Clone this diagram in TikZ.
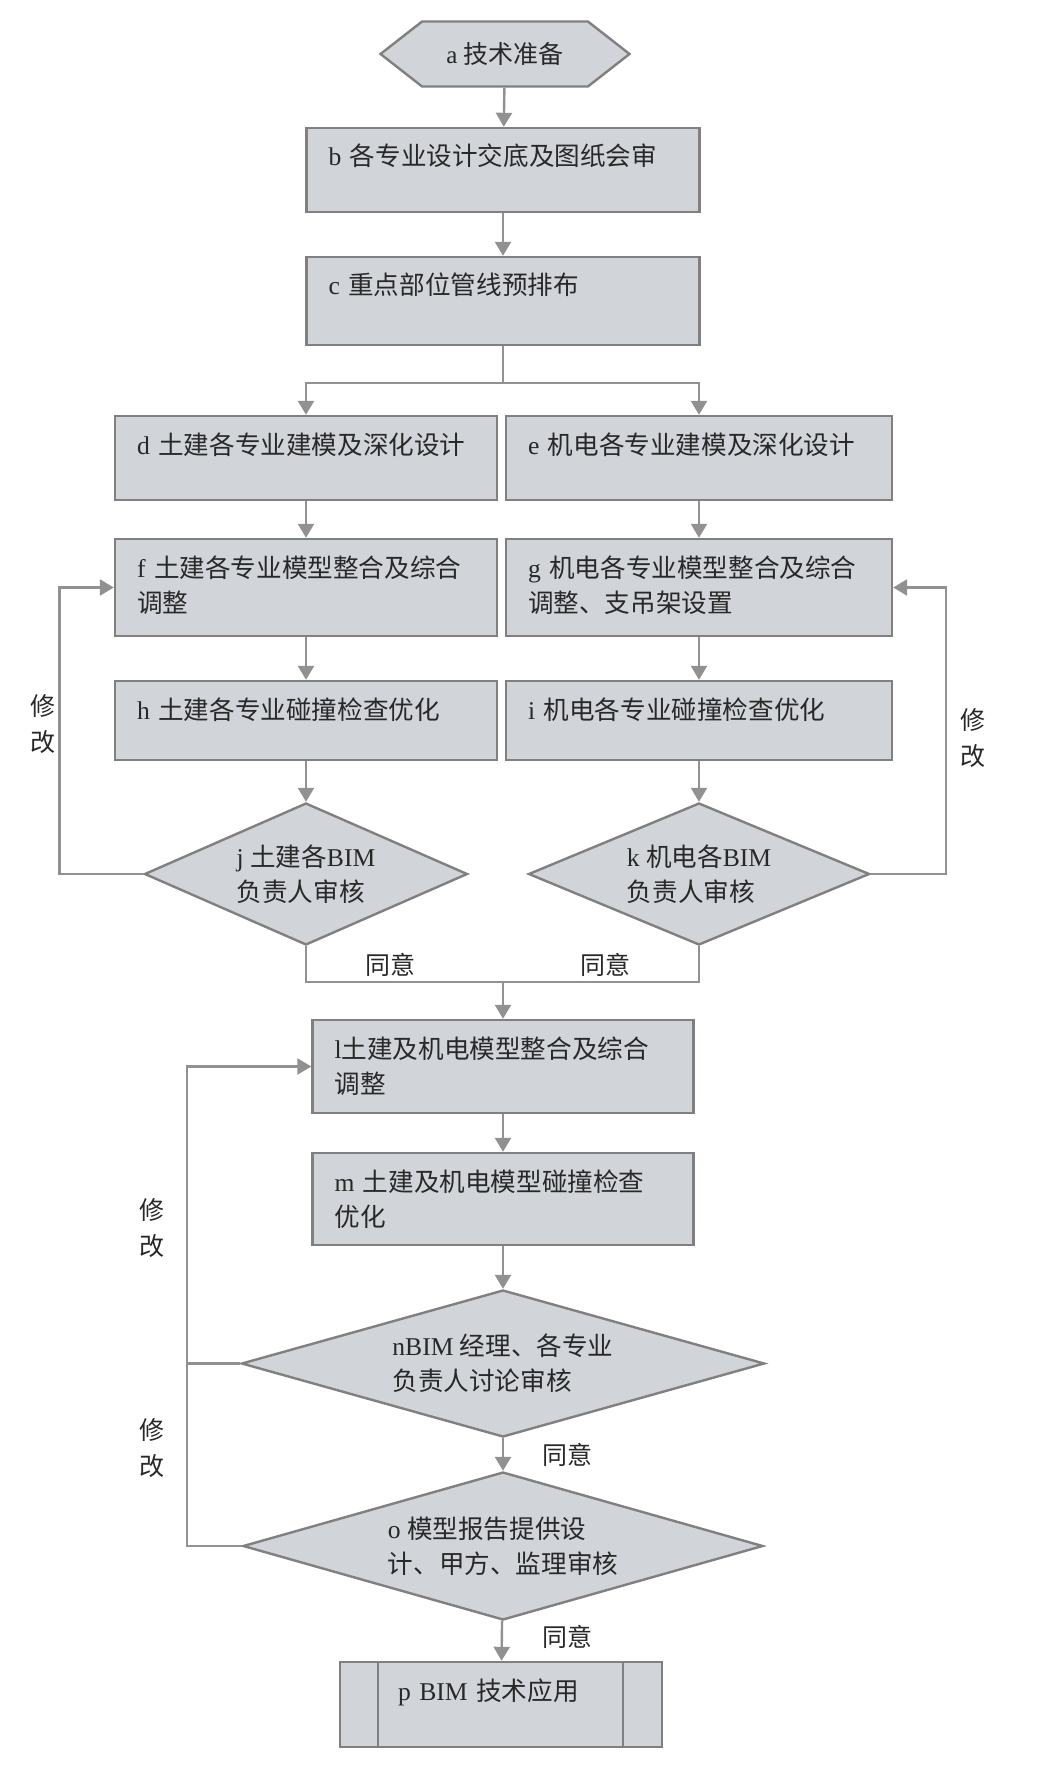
\documentclass[tikz,border=0pt]{standalone}
\usepackage{fontspec}
\setmainfont{Liberation Serif}
\newfontfamily\cjk{Noto Sans CJK SC}
\usepackage{tikz}
\usetikzlibrary{shapes.geometric, shapes.symbols, arrows.meta, positioning}

\definecolor{boxfill}{RGB}{209,212,217}
\definecolor{boxline}{RGB}{128,128,128}
\definecolor{flowgray}{RGB}{145,145,145}
\definecolor{txtgray}{RGB}{40,40,40}
\newcommand{\zh}[1]{{\cjk #1}}

\begin{document}
\begin{tikzpicture}[
            x=0.5pt, y=-0.5pt,
            every node/.style={text=txtgray},
            proc/.style={rectangle, draw=boxline, fill=boxfill, line width=1.2pt, font=\fontsize{12.8}{17.5}\selectfont, align=left, inner xsep=11pt, inner ysep=0pt, text height=19pt},
            start/.style={signal, signal to=west and east, signal pointer angle=76, draw=boxline, fill=boxfill, line width=1.2pt, font=\fontsize{12.5}{16}\selectfont, minimum width=124.5pt, minimum height=32.5pt, inner sep=0pt},
            check/.style={diamond, draw=boxline, fill=boxfill, line width=1.2pt, font=\fontsize{12.8}{17.5}\selectfont, align=left, inner sep=0pt},
            flow/.style={draw=flowgray, line width=1.2pt, -{Triangle[width=8pt, length=7pt]}},
            link/.style={draw=flowgray, line width=1.2pt},
            note/.style={font=\fontsize{12.5}{18}\selectfont, align=center}
        ]
            \useasboundingbox[fill=white] (0,0) rectangle (1054,1791);

            % main column
            \node[start] (a) at (505,54) {a~\zh{技术准备}};
            \node[proc, text width=174.5pt, text depth=23pt] (b) at (503,170) {b~\zh{各专业设计交底及图纸会审}};
            \node[proc, text width=174.5pt, text depth=25pt] (c) at (503,301) {c~\zh{重点部位管线预排布}};

            % two branches
            \node[proc, text width=169pt, text depth=23pt] (d) at (306,458) {d~\zh{土建各专业建模及深化设计}};
            \node[proc, text width=171pt, text depth=23pt] (e) at (699,458) {e~\zh{机电各专业建模及深化设计}};
            \node[proc, text width=169pt, text depth=29.5pt] (f) at (306,587.5) {f~\zh{土建各专业模型整合及综合}\\\zh{调整}};
            \node[proc, text width=171pt, text depth=29.5pt] (g) at (699,587.5) {g~\zh{机电各专业模型整合及综合}\\\zh{调整、支吊架设置}};
            \node[proc, text width=169pt, text depth=20.5pt] (h) at (306,720.5) {h~\zh{土建各专业碰撞检查优化}};
            \node[proc, text width=171pt, text depth=20.5pt] (i) at (699,720.5) {i~\zh{机电各专业碰撞检查优化}};
            \node[check, aspect=2.27, minimum width=161.5pt, minimum height=71pt] (j) at (306,874) {j~\zh{土建各}BIM\\\zh{负责人审核}};
            \node[check, aspect=2.4, minimum width=170.5pt, minimum height=71pt] (k) at (699,874) {k~\zh{机电各}BIM\\\zh{负责人审核}};

            % joint part
            \node[proc, text width=168.5pt, text depth=27.5pt] (l) at (503,1066.5) {l\zh{土建及机电模型整合及综合}\\\zh{调整}};
            \node[proc, text width=168.5pt, text depth=27pt] (m) at (503,1199) {m~\zh{土建及机电模型碰撞检查}\\\zh{优化}};
            \node[check, aspect=3.56, minimum width=261.5pt, minimum height=73.5pt] (n) at (503,1363.5) {nBIM \zh{经理、各专业}\\\zh{负责人讨论审核}};
            \node[check, aspect=3.5, minimum width=260pt, minimum height=74pt] (o) at (503,1546) {o~\zh{模型报告提供设}\\\zh{计、甲方、监理审核}};
            \node[proc, inner xsep=29pt, text width=103pt, text depth=23.5pt] (p) at (501,1704.5) {p~BIM \zh{技术应用}};
            \draw[boxline, line width=1.2pt] ([xshift=19.5pt]p.north west) -- ([xshift=19.5pt]p.south west);
            \draw[boxline, line width=1.2pt] ([xshift=-20pt]p.north east) -- ([xshift=-20pt]p.south east);

            % connectors
            \coordinate (split) at (503,383);
            \coordinate (merge) at (503,982);
            \coordinate (backx) at (187,0);
            \draw[flow] (a) -- (b);
            \draw[flow] (b) -- (c);
            \draw[flow] (c.south) -- (split) -| (d.north);
            \draw[flow] (split) -| (e.north);
            \draw[flow] (d) -- (f);
            \draw[flow] (f) -- (h);
            \draw[flow] (h) -- (j);
            \draw[flow] (e) -- (g);
            \draw[flow] (g) -- (i);
            \draw[flow] (i) -- (k);
            \draw[flow] (j.west) -- ++(-84,0) |- (f.west);
            \draw[flow] (k.east) -- ++(75,0) |- (g.east);
            \draw[link] (j.south) |- (merge);
            \draw[link] (k.south) |- (merge);
            \draw[flow] (merge) -- (l);
            \draw[flow] (l) -- (m);
            \draw[flow] (m) -- (n);
            \draw[flow] (n) -- (o);
            \draw[flow] (o) -- (p);
            \draw[link] (n.west) -- (n.west -| backx);
            \draw[flow] (o.west) -- (o.west -| backx) |- (l.west);

            % labels on the lines
            \node[note] (fix1) at (43,724) {\zh{修}\\\zh{改}};
            \node[note] (fix2) at (973,738) {\zh{修}\\\zh{改}};
            \node[note] (fix3) at (152,1228) {\zh{修}\\\zh{改}};
            \node[note] (fix4) at (152,1448) {\zh{修}\\\zh{改}};
            \node[note] (ok1) at (390,965) {\zh{同意}};
            \node[note] (ok2) at (605,965) {\zh{同意}};
            \node[note] (ok3) at (567,1455) {\zh{同意}};
            \node[note] (ok4) at (567,1637) {\zh{同意}};
        \end{tikzpicture}
\end{document}
